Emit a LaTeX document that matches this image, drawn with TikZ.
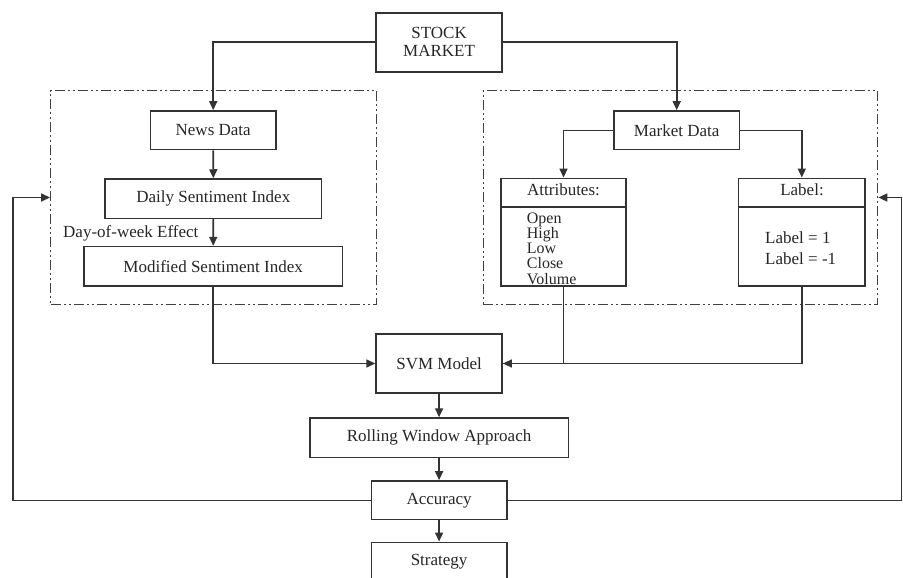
\documentclass[tikz,border=0pt]{standalone}
\usepackage{fontspec}
\setmainfont{Liberation Serif}
\usetikzlibrary{arrows.meta,calc}
\tikzset{
  box/.style={draw=black!80, line width=1.6pt, fill=white, inner sep=0pt, align=center,
              text=black!85, font=\fontsize{17}{18}\selectfont},
  grp/.style={draw=black!75, line width=1.3pt, inner sep=0pt,
              dash pattern=on 10pt off 3pt on 2pt off 3pt on 2pt off 3pt},
  line/.style={draw=black!80, line width=1.6pt},
  arr/.style={line, -{Triangle[length=9pt,width=8pt]}},
  txt/.style={inner sep=0pt, text=black!85, font=\fontsize{17}{18}\selectfont},
}
\begin{document}
\begin{tikzpicture}[x=1pt,y=-1pt]
\useasboundingbox (0,0) rectangle (903,578);
\clip (0,0) rectangle (903,578);
% groups
\node[grp, minimum width=326pt, minimum height=213.6pt] (lgroup) at (213.7,197.5) {};
\node[grp, minimum width=394.4pt, minimum height=213.6pt] (rgroup) at (680.5,197.5) {};
% boxes
\node[box, minimum width=126pt, minimum height=59pt] (stock) at (439.1,42.3) {STOCK\\[0pt]MARKET};
\node[box, minimum width=125.7pt, minimum height=38.7pt] (news) at (213.2,130.3) {News Data};
\node[box, minimum width=216.7pt, minimum height=39.3pt] (daily) at (213.3,198.7) {Daily Sentiment Index};
\node[box, minimum width=258.6pt, minimum height=39.3pt] (modified) at (213.2,266.3) {Modified Sentiment Index};
\node[txt, anchor=west] (dow) at (63,233) {Day-of-week Effect};
\node[box, minimum width=125.3pt, minimum height=38.7pt] (market) at (676.7,130.3) {Market Data};
\node[box, minimum width=125pt, minimum height=107.7pt] (attributes) at (563.5,232.2) {};
\node[box, minimum width=126.3pt, minimum height=107.7pt] (labelbox) at (801.8,232.2) {};
\draw[line] ([yshift=-29.4pt]attributes.north west) -- ([yshift=-29.4pt]attributes.north east);
\draw[line] ([yshift=-29.4pt]labelbox.north west) -- ([yshift=-29.4pt]labelbox.north east);
\node[txt] (attrhead) at (563.5,190) {Attributes:};
\node[txt] (labhead) at (802,190) {Label:};
\node[txt, anchor=west, align=left, font=\fontsize{16}{15.2}\selectfont] (attrlist) at (526.7,248.5)
  {Open\\High\\Low\\Close\\Volume};
\node[txt, anchor=west, align=left, font=\fontsize{17}{20.6}\selectfont] (lablist) at (765,248)
  {Label = 1\\Label = -1};
\node[box, minimum width=126pt, minimum height=59pt] (svm) at (439.1,363.5) {SVM Model};
\node[box, minimum width=258.6pt, minimum height=39.3pt] (rolling) at (439.1,437.7) {Rolling Window Approach};
\node[box, minimum width=135.4pt, minimum height=38.7pt] (accuracy) at (439.1,500.3) {Accuracy};
\node[box, minimum width=135.4pt, minimum height=39pt] (strategy) at (439.1,561.8) {Strategy};
\coordinate (fbl) at (12.7,197.5);
\coordinate (fbr) at (901.5,197.5);
% connectors
\draw[arr] (stock.west) -| (news.north);
\draw[arr] (stock.east) -| (market.north);
\draw[arr] (news.south) -- (daily.north);
\draw[arr] (daily.south) -- (modified.north);
\draw[arr] (market.west) -| (attributes.north);
\draw[arr] (market.east) -| (labelbox.north);
\draw[arr] (modified.south) |- (svm.west);
\draw[line] (labelbox.south) |- (svm.east);
\draw[arr] (attributes.south) |- (svm.east);
\draw[arr] (svm.south) -- (rolling.north);
\draw[arr] (rolling.south) -- (accuracy.north);
\draw[arr] (accuracy.south) -- (strategy.north);
\draw[arr] (accuracy.west) -| (fbl) -- (lgroup.west);
\draw[arr] (accuracy.east) -| (fbr) -- (rgroup.east);
\end{tikzpicture}
\end{document}
